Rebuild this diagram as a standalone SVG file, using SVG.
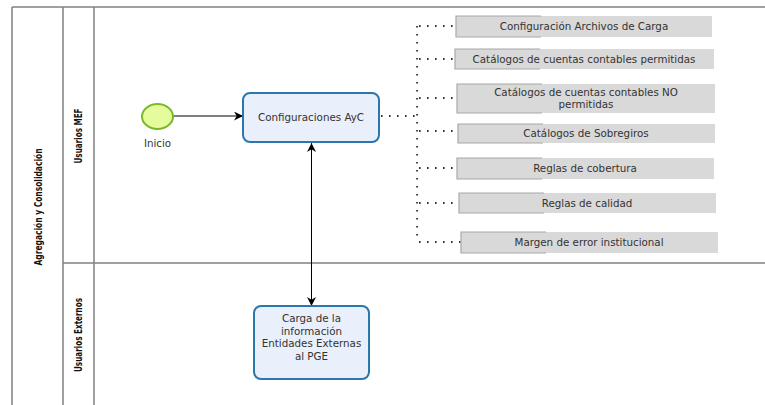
<svg xmlns="http://www.w3.org/2000/svg" width="765" height="405" viewBox="0 0 765 405">
<defs>
<marker id="ah" viewBox="0 0 10 10" refX="10" refY="5" markerWidth="9" markerHeight="9" orient="auto-start-reverse" markerUnits="userSpaceOnUse">
<path d="M0,0 L10,5 L0,10 L3,5 Z" fill="#000"/>
</marker>
<style>
.lane{fill:none;stroke:#808080;stroke-width:1.5}
.lbl{font-family:"DejaVu Sans Condensed","DejaVu Sans",sans-serif;font-weight:bold;font-size:10px;fill:#111;text-anchor:middle}
.task{fill:#e9effb;stroke:#2a77ad;stroke-width:2}
.t{font-family:"DejaVu Sans",Verdana,sans-serif;font-size:10.3px;fill:#333;text-anchor:middle}
.ann{fill:#d9d9d9;stroke:none}
.br{fill:none;stroke:#a8a8a8;stroke-width:1.2}
.dot{fill:none;stroke:#333;stroke-width:1.8;stroke-dasharray:1.6 6.4}
.flow{fill:none;stroke:#000;stroke-width:1}
</style>
</defs>
<rect width="765" height="405" fill="#fff"/>
<g id="pool">
<line class="lane" x1="12" y1="7" x2="765" y2="7"/>
<line class="lane" x1="12" y1="7" x2="12" y2="405"/>
<line class="lane" x1="63" y1="7" x2="63" y2="405"/>
<line class="lane" x1="94" y1="7" x2="94" y2="405"/>
<line class="lane" x1="63" y1="263" x2="765" y2="263"/>
<text class="lbl" transform="translate(42,207) rotate(-90)" textLength="117" lengthAdjust="spacingAndGlyphs">Agregación y Consolidación</text>
<text class="lbl" transform="translate(82,136) rotate(-90)" textLength="55" lengthAdjust="spacingAndGlyphs">Usuarios MEF</text>
<text class="lbl" transform="translate(82,335) rotate(-90)" textLength="74" lengthAdjust="spacingAndGlyphs">Usuarios Externos</text>
</g>
<g id="connectors">
<line class="flow" x1="173" y1="116" x2="243" y2="116" marker-end="url(#ah)"/>
<line class="flow" x1="311.5" y1="143" x2="311.5" y2="306" marker-start="url(#ah)" marker-end="url(#ah)"/>
<path class="dot" d="M381,116 H417"/>
<path class="dot" d="M417,26 V242"/>
<path class="dot" d="M419,26 H456 M419,59 H455 M419,98 H457 M419,131 H458 M419,168 H457 M419,203 H459 M419,242 H461"/>
</g>
<g id="inicio">
<ellipse cx="157.5" cy="116.5" rx="15.5" ry="12.5" fill="#e5fb9c" stroke="#78b829" stroke-width="2"/>
<text class="t" x="157.5" y="146.5">Inicio</text>
</g>
<g id="config">
<rect class="task" x="243" y="93" width="136" height="49" rx="7"/>
<text class="t" x="311" y="120.5">Configuraciones AyC</text>
</g>
<g id="carga">
<rect class="task" x="254" y="306" width="115" height="73" rx="7"/>
<text class="t" x="311.5" y="322">Carga de la</text>
<text class="t" x="311.5" y="334.5">información</text>
<text class="t" x="311.5" y="347">Entidades Externas</text>
<text class="t" x="311.5" y="359.5">al PGE</text>
</g>
<g id="a1">
<rect class="ann" x="456" y="16" width="256" height="21"/>
<path class="br" d="M541,16 H456 V37 H541"/>
<text class="t" x="584" y="30">Configuración  Archivos de Carga</text>
</g>
<g id="a2">
<rect class="ann" x="455" y="49" width="259" height="20"/>
<path class="br" d="M540,49 H455 V69 H540"/>
<text class="t" x="584" y="62.5">Catálogos de cuentas contables permitidas</text>
</g>
<g id="a3">
<rect class="ann" x="457" y="84" width="258" height="29"/>
<path class="br" d="M542,84 H457 V113 H542"/>
<text class="t" x="586" y="96">Catálogos de cuentas contables NO</text>
<text class="t" x="586" y="108">permitidas</text>
</g>
<g id="a4">
<rect class="ann" x="458" y="124" width="257" height="19"/>
<path class="br" d="M543,124 H458 V143 H543"/>
<text class="t" x="586" y="137">Catálogos de Sobregiros</text>
</g>
<g id="a5">
<rect class="ann" x="457" y="158" width="257" height="21"/>
<path class="br" d="M542,158 H457 V179 H542"/>
<text class="t" x="585" y="171.5">Reglas de cobertura</text>
</g>
<g id="a6">
<rect class="ann" x="459" y="193" width="257" height="20"/>
<path class="br" d="M544,193 H459 V213 H544"/>
<text class="t" x="587" y="206.5">Reglas de calidad</text>
</g>
<g id="a7">
<rect class="ann" x="461" y="232" width="257" height="21"/>
<path class="br" d="M546,232 H461 V253 H546"/>
<text class="t" x="589" y="245.5">Margen de error institucional</text>
</g>
</svg>
